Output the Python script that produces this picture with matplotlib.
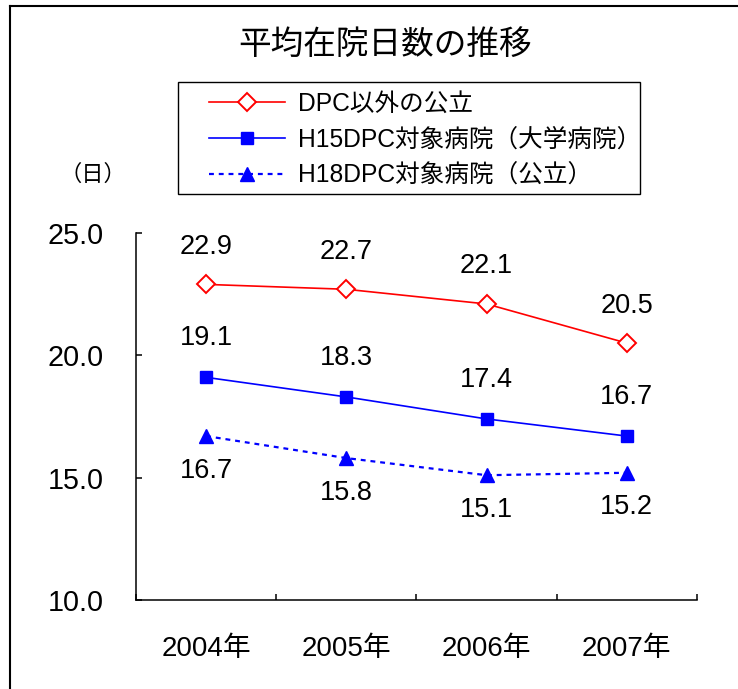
import matplotlib
matplotlib.use('Agg')
import matplotlib.pyplot as plt
from matplotlib.lines import Line2D
from matplotlib.patches import Rectangle

plt.rcParams['font.family'] = ['Liberation Sans', 'Noto Sans CJK JP', 'DejaVu Sans']

years = ['2004年', '2005年', '2006年', '2007年']
non_dpc = [22.9, 22.7, 22.1, 20.5]
h15_dpc = [19.1, 18.3, 17.4, 16.7]
h18_dpc = [16.7, 15.8, 15.1, 15.2]
series_names = ['DPC以外の公立', 'H15DPC対象病院（大学病院）', 'H18DPC対象病院（公立）']
yticks = [10.0, 15.0, 20.0, 25.0]

fig = plt.figure(figsize=(7.38, 6.89), dpi=100)
ax = fig.add_axes([0.1843, 0.1292, 0.7601, 0.5326])

x = range(len(years))
ax.plot(x, non_dpc, color='red', lw=1.2, marker='D', ms=9, mfc='white',
        mec='red', mew=1.4, label=series_names[0])
ax.plot(x, h15_dpc, color='blue', lw=1.2, marker='s', ms=8, mfc='blue',
        mec='blue', label=series_names[1])
ax.plot(x, h18_dpc, color='blue', lw=1.6, ls=(0, (2.2, 2.2)), marker='^', ms=10,
        mfc='blue', mec='blue', label=series_names[2])

# value labels
for i in x:
    ax.annotate(f'{non_dpc[i]:.1f}', (i, non_dpc[i]), xytext=(0, 27),
                textcoords='offset points', ha='center', va='center', fontsize=19.5)
    ax.annotate(f'{h15_dpc[i]:.1f}', (i, h15_dpc[i]), xytext=(0, 28),
                textcoords='offset points', ha='center', va='center', fontsize=19.5)
    ax.annotate(f'{h18_dpc[i]:.1f}', (i, h18_dpc[i]), xytext=(0, -25),
                textcoords='offset points', ha='center', va='center', fontsize=19.5)

ax.set_xlim(-0.5, len(years) - 0.5)
ax.set_ylim(10, 25)

# ticks on category boundaries, labels in the middle
ax.set_xticks([i - 0.5 for i in range(len(years) + 1)])
ax.set_xticklabels([])
ax.set_xticks(list(x), minor=True)
ax.set_xticklabels(years, minor=True, fontsize=20)
ax.tick_params(axis='x', which='major', direction='in', length=4, width=1.1)
ax.tick_params(axis='x', which='minor', length=0, pad=26)

ax.set_yticks(yticks)
ax.set_yticklabels([f'{v:.1f}' for v in yticks], fontsize=20.7)
ax.tick_params(axis='y', direction='in', length=4, width=1.1, pad=23)

for s in ['top', 'right']:
    ax.spines[s].set_visible(False)
for s in ['left', 'bottom']:
    ax.spines[s].set_linewidth(1.1)

fig.text(0.522, 0.934, '平均在院日数の推移', ha='center', va='center', fontsize=23.5)
fig.text(0.126, 0.746, '（日）', ha='center', va='center', fontsize=16)

leg = fig.legend(loc='upper left', bbox_to_anchor=(209 / 738, 1 - 92 / 689),
                 fontsize=17.7, frameon=False, handlelength=3.1,
                 handletextpad=0.53, labelspacing=0.47, borderpad=0,
                 borderaxespad=0)
# legend frame box
fig.add_artist(Rectangle((178 / 738, 1 - 194 / 689), 462 / 738, 112 / 689,
                         transform=fig.transFigure, fill=False,
                         edgecolor='black', lw=1.0))

# outer frame (top and left edges visible in the reference)
fig.add_artist(Line2D([0.0136, 1.0], [0.991, 0.991], color='black', lw=1.5,
                      transform=fig.transFigure))
fig.add_artist(Line2D([0.0136, 0.0136], [0.0, 0.991], color='black', lw=1.5,
                      transform=fig.transFigure))

fig.savefig('out.png', dpi=100)
